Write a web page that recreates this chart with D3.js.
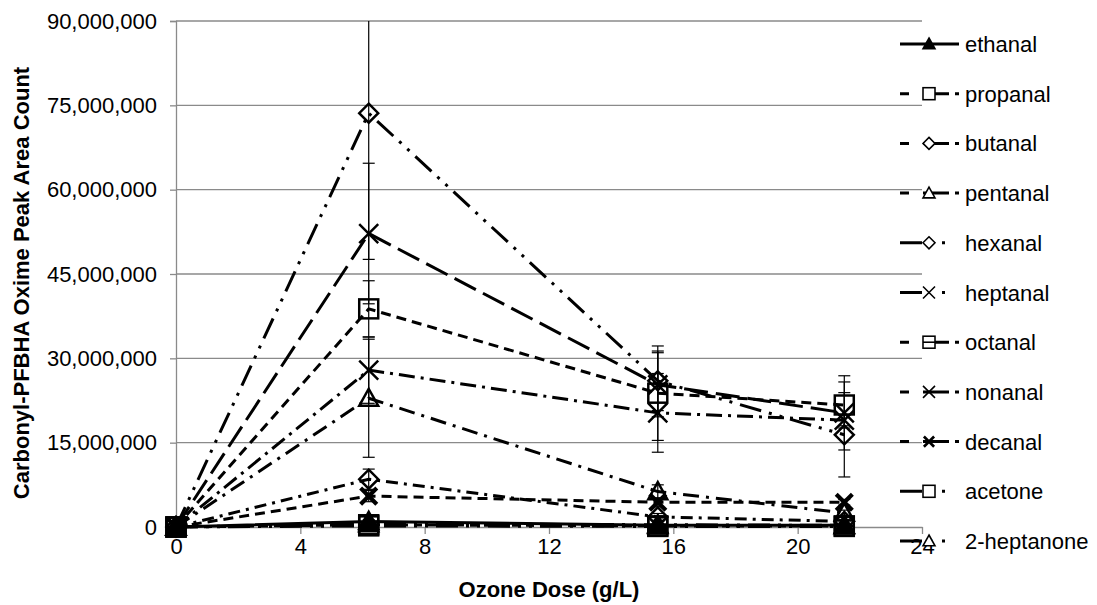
<!DOCTYPE html>
<html>
<head>
<meta charset="utf-8">
<script src="https://cdn.jsdelivr.net/npm/d3@7"></script>
<style>
  html, body { margin: 0; padding: 0; background: #fff; }
  svg { display: block; font-family: "Liberation Sans", Arial, sans-serif; }
</style>
</head>
<body>
<svg id="chart" width="1097" height="605"></svg>
<script>
// Ozone dose (g/L) at which samples were taken
const doses = [0, 6.2, 15.5, 21.5];

// Peak area counts per carbonyl (mean) and their error (± one SD)
const ethanal     = [0, 1.0e6, 0.3e6, 0.3e6];
const propanal    = [0, 38.8e6, 23.8e6, 21.7e6];
const butanal     = [0, 8.5e6, 1.8e6, 1.0e6];
const pentanal    = [0, 22.9e6, 6.3e6, 2.5e6];
const hexanal     = [0, 73.6e6, 26.0e6, 16.4e6];
const heptanal    = [0, 52.2e6, 25.3e6, 20.3e6];
const octanal     = [0, 0.4e6, 0.2e6, 0.2e6];
const nonanal     = [0, 27.9e6, 20.3e6, 19.0e6];
const decanal     = [0, 5.5e6, 4.4e6, 4.4e6];
const acetone     = [0, 0.2e6, 0.1e6, 0.1e6];
const heptanone2  = [0, 0.6e6, 0.4e6, 0.3e6];

const ethanalErr    = [0, 0.3e6, 0.1e6, 0.1e6];
const propanalErr   = [0, 5.0e6, 8.4e6, 4.1e6];
const butanalErr    = [0, 1.8e6, 0.6e6, 0.3e6];
const pentanalErr   = [0, 10.5e6, 1.2e6, 0.5e6];
const hexanalErr    = [0, 26.0e6, 5.3e6, 7.5e6];
const heptanalErr   = [0, 12.5e6, 5.7e6, 6.6e6];
const octanalErr    = [0, 0.1e6, 0.1e6, 0.1e6];
const nonanalErr    = [0, 5.9e6, 7.0e6, 1.0e6];
const decanalErr    = [0, 1.0e6, 0.8e6, 0.5e6];
const acetoneErr    = [0, 0.1e6, 0.1e6, 0.1e6];
const heptanone2Err = [0, 0.3e6, 0.2e6, 0.1e6];

const seriesNames = ["ethanal", "propanal", "butanal", "pentanal", "hexanal", "heptanal",
                     "octanal", "nonanal", "decanal", "acetone", "2-heptanone"];

const yTicks = [0, 15e6, 30e6, 45e6, 60e6, 75e6, 90e6];
const xTicks = [0, 4, 8, 12, 16, 20, 24];

// Styling per series: marker shape and dash pattern
const styles = [
  { marker: "triFill",    dash: null },
  { marker: "square",     dash: "10,6" },
  { marker: "diamond",    dash: "12,6,3,6" },
  { marker: "tri",        dash: "16,7,3,7" },
  { marker: "diamond",    dash: "22,8,3,8,3,8" },
  { marker: "x",          dash: "24,8" },
  { marker: "squareLine", dash: "8,6" },
  { marker: "x",          dash: "16,6,3,6" },
  { marker: "xBold",      dash: "10,6" },
  { marker: "square",     dash: "22,8,3,8,3,8" },
  { marker: "tri",        dash: "22,8,3,8,3,8" }
];

// Legend sample patterns (short swatch of each series' line)
const legendDash = [null, "9,14,26,6", "9,14,26,6", "9,14,26,6", "22,20,3,20", "22,20,3,20",
                    "9,14,26,6,9,4", "9,14,26,6", "9,14,26,6,9,4", "22,20,3,20", "22,20,3,20"];

const values = [ethanal, propanal, butanal, pentanal, hexanal, heptanal,
                octanal, nonanal, decanal, acetone, heptanone2];
const errors = [ethanalErr, propanalErr, butanalErr, pentanalErr, hexanalErr, heptanalErr,
                octanalErr, nonanalErr, decanalErr, acetoneErr, heptanone2Err];

const series = seriesNames.map((name, i) => ({
  name,
  style: styles[i],
  legendDash: legendDash[i],
  points: doses.map((d, j) => ({ x: d, y: values[i][j], e: errors[i][j] }))
}));

const svg = d3.select("#chart");
const plot = { left: 176, right: 922, top: 21, bottom: 527 };

const x = d3.scaleLinear().domain([0, 24]).range([plot.left, plot.right]);
const y = d3.scaleLinear().domain([0, 90e6]).range([plot.bottom, plot.top]);

const gridColor = "#8a8a8a";

// Horizontal gridlines
svg.append("g")
  .selectAll("line")
  .data(yTicks.filter(t => t > 0))
  .join("line")
  .attr("x1", plot.left).attr("x2", plot.right)
  .attr("y1", d => y(d)).attr("y2", d => y(d))
  .attr("stroke", gridColor).attr("stroke-width", 1.3);

// Y axis
const yAxis = svg.append("g")
  .attr("transform", `translate(${plot.left},0)`)
  .call(d3.axisLeft(y).tickValues(yTicks).tickFormat(d3.format(",")).tickSize(6).tickPadding(13));
yAxis.select(".domain").attr("stroke", gridColor).attr("stroke-width", 1.3);
yAxis.selectAll(".tick line").attr("stroke", gridColor).attr("stroke-width", 1.3);
yAxis.selectAll("text").attr("font-size", 22).attr("fill", "#000")
  .attr("font-family", "'Liberation Sans', Arial, sans-serif");

// X axis
const xAxis = svg.append("g")
  .attr("transform", `translate(0,${plot.bottom})`)
  .call(d3.axisBottom(x).tickValues(xTicks).tickSize(7).tickPadding(4).tickSizeOuter(0));
xAxis.select(".domain").attr("stroke", gridColor).attr("stroke-width", 1.3);
xAxis.selectAll(".tick line").attr("stroke", gridColor).attr("stroke-width", 1.3);
xAxis.selectAll("text").attr("font-size", 22).attr("fill", "#000")
  .attr("font-family", "'Liberation Sans', Arial, sans-serif");

// Axis titles
svg.append("text")
  .attr("x", (plot.left + plot.right) / 2).attr("y", 597)
  .attr("text-anchor", "middle")
  .attr("font-size", 22).attr("font-weight", "bold")
  .text("Ozone Dose (g/L)");

svg.append("text")
  .attr("transform", "translate(29,283) rotate(-90)")
  .attr("text-anchor", "middle")
  .attr("font-size", 22).attr("font-weight", "bold")
  .text("Carbonyl-PFBHA Oxime Peak Area Count");

// Marker drawing; `fill` is used for the interior of open shapes
function drawMarker(g, type, s, fill) {
  const h = s / 2;
  const open = fill || "none";
  if (type === "triFill" || type === "tri") {
    g.append("path")
      .attr("d", `M0,${-h}L${h},${h * 0.8}L${-h},${h * 0.8}Z`)
      .attr("fill", type === "triFill" ? "#000" : open)
      .attr("stroke", "#000").attr("stroke-width", s * 0.13);
  } else if (type === "square" || type === "squareLine") {
    g.append("rect")
      .attr("x", -h).attr("y", -h).attr("width", s).attr("height", s)
      .attr("fill", open).attr("stroke", "#000").attr("stroke-width", s * 0.13);
    if (type === "squareLine") {
      g.append("line").attr("x1", -h).attr("x2", h).attr("y1", 0).attr("y2", 0)
        .attr("stroke", "#000").attr("stroke-width", s * 0.13);
    }
  } else if (type === "diamond") {
    g.append("path")
      .attr("d", `M0,${-h}L${h},0L0,${h}L${-h},0Z`)
      .attr("fill", open).attr("stroke", "#000").attr("stroke-width", s * 0.13);
  } else if (type === "x" || type === "xBold") {
    const k = type === "xBold" ? h * 0.85 : h;
    g.append("path")
      .attr("d", `M${-k},${-k}L${k},${k}M${k},${-k}L${-k},${k}`)
      .attr("fill", "none").attr("stroke", "#000")
      .attr("stroke-width", type === "xBold" ? s * 0.22 : s * 0.13);
  }
}

const line = d3.line().x(d => x(d.x)).y(d => y(d.y));

// Error bars (clipped to the plotted range)
const errG = svg.append("g");
series.forEach(sr => {
  sr.points.forEach(p => {
    if (!p.e) return;
    const hi = p.y + p.e, lo = Math.max(0, p.y - p.e);
    const yHi = y(Math.min(hi, 90e6)), yLo = y(lo);
    errG.append("line")
      .attr("x1", x(p.x)).attr("x2", x(p.x)).attr("y1", yHi).attr("y2", yLo)
      .attr("stroke", "#000").attr("stroke-width", 1.2);
    if (hi <= 90e6) {
      errG.append("line").attr("x1", x(p.x) - 6).attr("x2", x(p.x) + 6)
        .attr("y1", yHi).attr("y2", yHi).attr("stroke", "#000").attr("stroke-width", 1.2);
    }
    if (p.y - p.e > 0) {
      errG.append("line").attr("x1", x(p.x) - 6).attr("x2", x(p.x) + 6)
        .attr("y1", yLo).attr("y2", yLo).attr("stroke", "#000").attr("stroke-width", 1.2);
    }
  });
});

// Series lines and markers
series.forEach(sr => {
  const g = svg.append("g");
  g.append("path")
    .datum(sr.points)
    .attr("d", line)
    .attr("fill", "none").attr("stroke", "#000").attr("stroke-width", 3)
    .attr("stroke-dasharray", sr.style.dash);
  sr.points.forEach(p => {
    const m = g.append("g").attr("transform", `translate(${x(p.x)},${y(p.y)})`);
    drawMarker(m, sr.style.marker, 19);
  });
});

// Legend
const legend = svg.append("g");
series.forEach((sr, i) => {
  const ly = 44 + i * 49.7;
  const g = legend.append("g").attr("transform", `translate(0,${ly})`);
  g.append("line").attr("x1", 900).attr("x2", 959).attr("y1", 0).attr("y2", 0)
    .attr("stroke", "#000").attr("stroke-width", 3)
    .attr("stroke-dasharray", sr.legendDash);
  const m = g.append("g").attr("transform", "translate(929,0)");
  drawMarker(m, sr.style.marker, 12, "#fff");
  g.append("text").attr("x", 965).attr("y", 8)
    .attr("font-size", 22).attr("fill", "#000")
    .text(sr.name);
});
</script>
</body>
</html>
